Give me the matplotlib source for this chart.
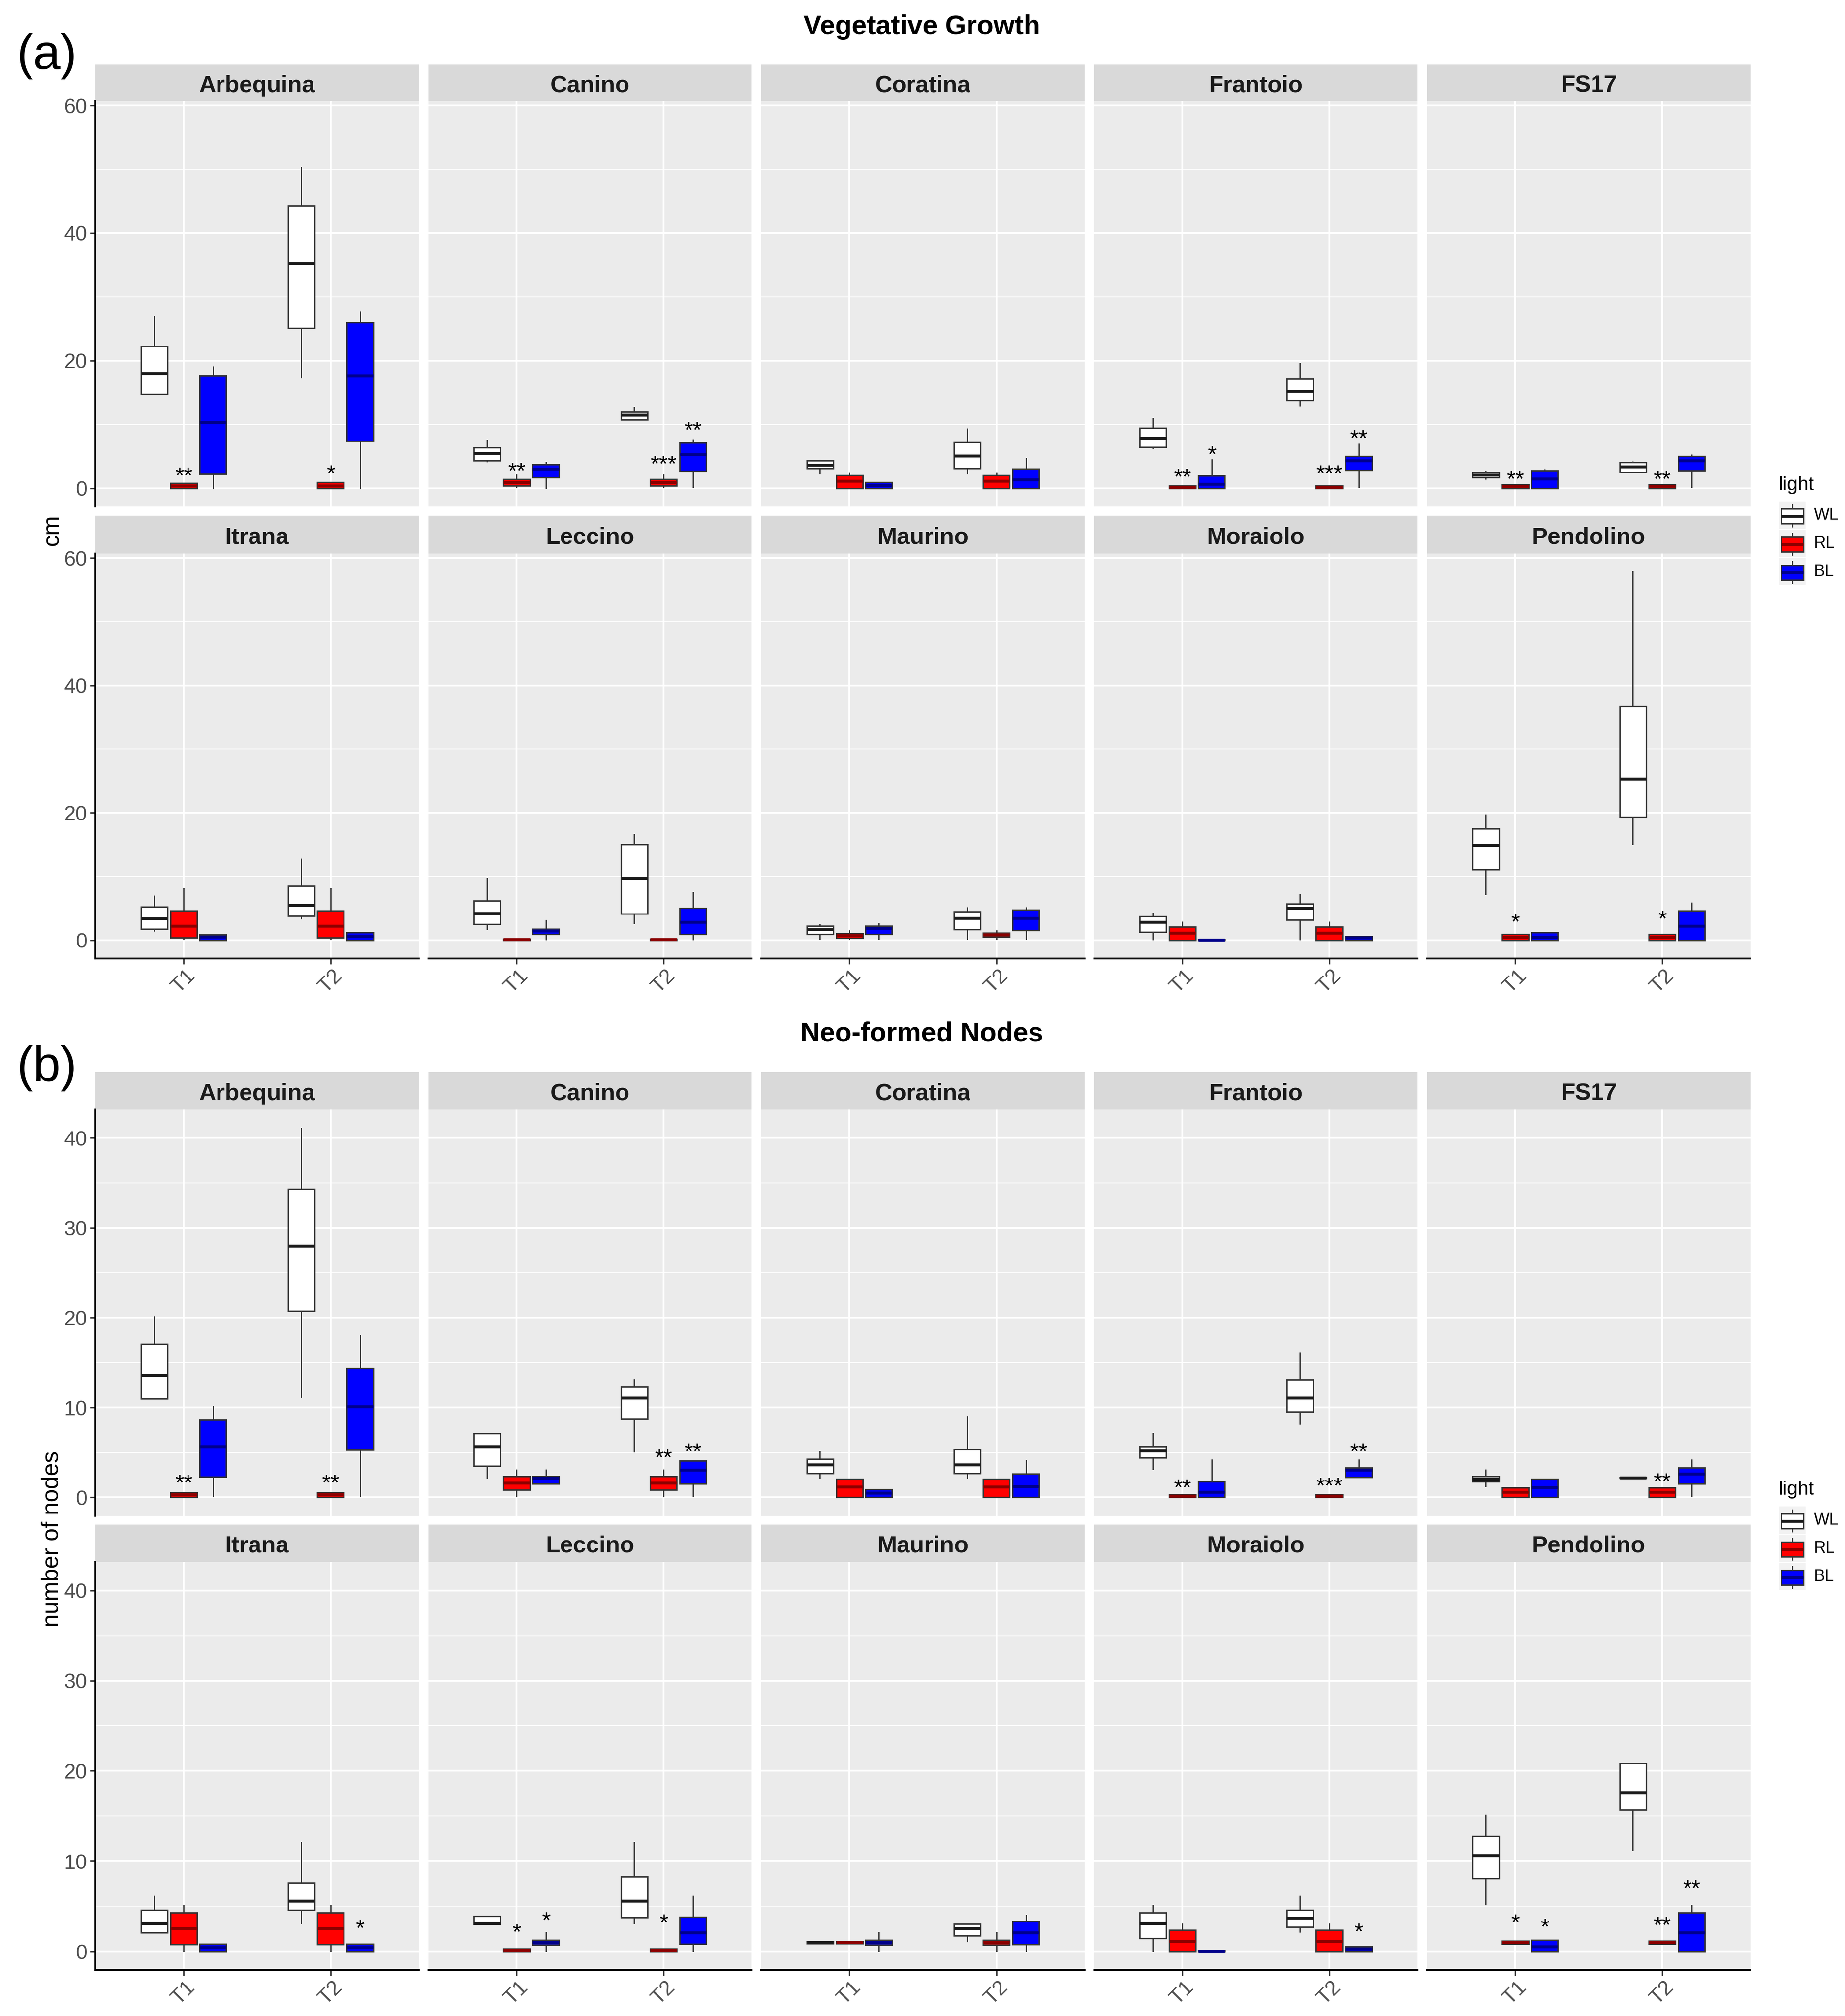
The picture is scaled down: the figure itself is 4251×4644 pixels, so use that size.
import matplotlib
matplotlib.use("Agg")
import matplotlib.pyplot as plt
from matplotlib.patches import Rectangle
from matplotlib.ticker import MultipleLocator

plt.rcParams['font.family'] = ['Liberation Sans', 'DejaVu Sans']

W, H, DPI = 4251, 4644, 300

# ---------------- data ----------------
cultivars = ["Arbequina", "Canino", "Coratina", "Frantoio", "FS17",
             "Itrana", "Leccino", "Maurino", "Moraiolo", "Pendolino"]
times = ["T1", "T2"]
lights = ["WL", "RL", "BL"]
light_colors = ["#FFFFFF", "#FF0000", "#0000FF"]
median_colors = ["#1A1A1A", "#8B0000", "#00008B"]

# box stats per cultivar: [lower whisker, Q1, median, Q3, upper whisker]
# (a) Vegetative Growth (cm)
growth_WL_T1 = [[14.75, 14.75, 18.0, 22.2, 26.9], [4.2, 4.3, 5.45, 6.4, 7.5], [2.25, 3.08, 3.66, 4.31, 4.4],
                [6.3, 6.44, 7.84, 9.45, 10.96], [1.45, 1.7, 2.1, 2.5, 2.6], [1.5, 1.75, 3.4, 5.2, 6.9],
                [1.75, 2.5, 4.2, 6.2, 9.7], [0.18, 0.94, 1.67, 2.2, 2.4], [0.1, 1.25, 2.85, 3.7, 4.2],
                [7.2, 11.1, 14.9, 17.5, 19.7]]
growth_WL_T2 = [[17.3, 25.1, 35.2, 44.3, 50.3], [10.7, 10.7, 11.5, 11.95, 12.7], [2.25, 3.1, 5.1, 7.2, 9.3],
                [13.0, 13.8, 15.2, 17.1, 19.6], [2.5, 2.5, 3.4, 4.05, 4.15], [3.4, 3.8, 5.5, 8.5, 12.7],
                [2.6, 4.1, 9.7, 15.05, 16.6], [0.18, 1.67, 3.45, 4.5, 5.1], [0.1, 3.2, 5.0, 5.7, 7.2],
                [15.1, 19.3, 25.3, 36.7, 57.8]]
growth_RL_T1 = [[0, 0, 0.4, 0.8, 0.8], [0.15, 0.35, 0.9, 1.4, 2.1], [0, 0, 1.1, 2.0, 2.4],
                [0, 0, 0.2, 0.4, 0.4], [0, 0, 0.3, 0.57, 0.57], [0.2, 0.35, 2.25, 4.6, 8.1],
                [0, 0, 0.08, 0.15, 0.15], [0.18, 0.34, 0.7, 1.03, 1.44], [0, 0, 1.1, 2.1, 2.85],
                [0, 0, 0.45, 0.95, 0.95]]
growth_RL_T2 = [[0, 0, 0.4, 0.9, 0.9], [0.15, 0.35, 0.9, 1.4, 2.1], [0, 0, 1.1, 2.0, 2.4],
                [0, 0, 0.2, 0.4, 0.4], [0, 0, 0.3, 0.57, 0.57], [0.2, 0.35, 2.25, 4.6, 8.1],
                [0, 0, 0.08, 0.15, 0.15], [0.18, 0.53, 0.87, 1.14, 1.44], [0, 0, 1.1, 2.1, 2.85],
                [0, 0, 0.45, 0.95, 0.95]]
growth_BL_T1 = [[0, 2.2, 10.3, 17.7, 19.0], [0.05, 1.7, 3.0, 3.7, 4.05], [0, 0, 0.45, 0.94, 0.94],
                [0, 0, 0.68, 1.97, 4.47], [0, 0, 1.45, 2.75, 2.9], [0, 0, 0.5, 0.85, 0.85],
                [0.1, 0.95, 1.45, 1.75, 3.1], [0.18, 0.94, 1.85, 2.2, 2.6], [0, 0, 0.05, 0.1, 0.1],
                [0, 0, 0.45, 1.2, 1.2]]
growth_BL_T2 = [[0, 7.4, 17.7, 26.0, 27.7], [0.15, 2.7, 5.25, 7.1, 7.6], [0, 0, 1.35, 3.0, 4.7],
                [0.15, 2.86, 4.3, 5.04, 6.9], [0.15, 2.75, 4.3, 5.0, 5.2], [0, 0, 0.6, 1.2, 1.2],
                [0.1, 0.95, 2.85, 5.0, 7.5], [0.18, 1.55, 3.45, 4.75, 5.1], [0, 0, 0.35, 0.6, 0.6],
                [0, 0, 2.25, 4.6, 5.8]]

# (b) Neo-formed Nodes (number of nodes)
nodes_WL_T1 = [[11.0, 11.0, 13.6, 17.05, 20.1], [2.15, 3.5, 5.66, 7.1, 7.1], [2.16, 2.68, 3.63, 4.25, 5.08],
               [3.15, 4.44, 5.2, 5.66, 7.14], [1.22, 1.78, 2.07, 2.33, 3.07], [2.08, 2.08, 3.1, 4.56, 6.1],
               [3.0, 3.0, 3.1, 3.9, 3.9], [0.9, 0.9, 1.0, 1.1, 1.1], [0.07, 1.46, 3.1, 4.3, 5.1],
               [5.2, 8.1, 10.65, 12.76, 15.1]]
nodes_WL_T2 = [[11.2, 20.75, 28.0, 34.3, 41.1], [5.1, 8.7, 11.1, 12.3, 13.1], [2.16, 2.68, 3.63, 5.35, 9.0],
               [8.2, 9.55, 11.1, 13.1, 16.1], [2.15, 2.15, 2.2, 2.25, 2.25], [3.1, 4.56, 5.58, 7.6, 12.1],
               [3.1, 3.76, 5.58, 8.3, 12.1], [1.1, 1.75, 2.55, 3.03, 3.03], [2.19, 2.73, 3.72, 4.56, 6.1],
               [11.2, 15.7, 17.6, 20.85, 20.85]]
nodes_RL_T1 = [[0, 0, 0.3, 0.55, 0.55], [0.1, 0.85, 1.6, 2.33, 3.07], [0, 0, 1.2, 2.05, 2.05],
               [0, 0, 0.15, 0.3, 0.3], [0, 0, 0.6, 1.1, 1.1], [0.07, 0.8, 2.55, 4.27, 5.1],
               [0, 0, 0.15, 0.3, 0.3], [0.9, 0.9, 1.0, 1.1, 1.1], [0, 0, 1.1, 2.37, 3.03],
               [0.85, 0.85, 1.0, 1.15, 1.15]]
nodes_RL_T2 = [[0, 0, 0.3, 0.55, 0.55], [0.1, 0.85, 1.6, 2.33, 3.07], [0, 0, 1.2, 2.05, 2.05],
               [0, 0, 0.15, 0.3, 0.3], [0, 0, 0.6, 1.1, 1.1], [0.07, 0.8, 2.55, 4.27, 5.1],
               [0, 0, 0.15, 0.3, 0.3], [0.07, 0.73, 1.0, 1.28, 2.08], [0, 0, 1.1, 2.37, 3.03],
               [0.85, 0.85, 1.0, 1.15, 1.15]]
nodes_BL_T1 = [[0.1, 2.3, 5.66, 8.6, 10.1], [1.5, 1.5, 2.15, 2.33, 3.07], [0, 0, 0.5, 0.87, 0.87],
               [0, 0, 0.6, 1.78, 4.2], [0, 0, 1.15, 2.07, 2.07], [0, 0, 0.44, 0.84, 0.84],
               [0.07, 0.73, 1.0, 1.28, 2.08], [0.07, 0.73, 1.0, 1.28, 2.08], [0, 0, 0.05, 0.1, 0.1],
               [0, 0, 0.55, 1.28, 1.28]]
nodes_BL_T2 = [[0.1, 5.3, 10.1, 14.35, 18.05], [0.1, 1.5, 3.07, 4.1, 4.1], [0, 0, 1.25, 2.64, 4.12],
               [2.26, 2.26, 3.07, 3.33, 4.2], [0.1, 1.5, 2.63, 3.33, 4.2], [0, 0, 0.44, 0.84, 0.84],
               [0.07, 0.84, 2.08, 3.83, 6.1], [0.07, 0.8, 2.08, 3.35, 4.0], [0, 0, 0.3, 0.55, 0.55],
               [0, 0, 2.1, 4.27, 5.1]]

# significance labels: (cultivar, time, light, label, y)
growth_stars = [("Arbequina", "T1", "RL", "**", 2.75), ("Arbequina", "T2", "RL", "*", 3.1),
                ("Canino", "T1", "RL", "**", 3.5), ("Canino", "T2", "RL", "***", 4.6),
                ("Canino", "T2", "BL", "**", 9.9), ("Frantoio", "T1", "RL", "**", 2.5),
                ("Frantoio", "T1", "BL", "*", 6.1), ("Frantoio", "T2", "RL", "***", 3.1),
                ("Frantoio", "T2", "BL", "**", 8.6), ("FS17", "T1", "RL", "**", 2.2),
                ("FS17", "T2", "RL", "**", 2.2), ("Pendolino", "T1", "RL", "*", 3.6),
                ("Pendolino", "T2", "RL", "*", 4.1)]
nodes_stars = [("Arbequina", "T1", "RL", "**", 2.2), ("Arbequina", "T2", "RL", "**", 2.2),
               ("Canino", "T2", "RL", "**", 5.0), ("Canino", "T2", "BL", "**", 5.66),
               ("Frantoio", "T1", "RL", "**", 1.66), ("Frantoio", "T2", "RL", "***", 1.85),
               ("Frantoio", "T2", "BL", "**", 5.66), ("FS17", "T2", "RL", "**", 2.33),
               ("Itrana", "T2", "BL", "*", 3.1), ("Leccino", "T1", "RL", "*", 2.7),
               ("Leccino", "T1", "BL", "*", 4.0), ("Leccino", "T2", "RL", "*", 3.76),
               ("Moraiolo", "T2", "BL", "*", 2.73), ("Pendolino", "T1", "RL", "*", 3.75),
               ("Pendolino", "T1", "BL", "*", 3.28), ("Pendolino", "T2", "RL", "**", 3.46),
               ("Pendolino", "T2", "BL", "**", 7.55)]

growth = {"WL": (growth_WL_T1, growth_WL_T2), "RL": (growth_RL_T1, growth_RL_T2),
          "BL": (growth_BL_T1, growth_BL_T2)}
nodes = {"WL": (nodes_WL_T1, nodes_WL_T2), "RL": (nodes_RL_T1, nodes_RL_T2),
         "BL": (nodes_BL_T1, nodes_BL_T2)}

# ---------------- layout ----------------
fig = plt.figure(figsize=(W / DPI, H / DPI), dpi=DPI)
fig.patch.set_facecolor("white")


def px_axes(x0, y0, x1, y1):
    return fig.add_axes([x0 / W, 1 - y1 / H, (x1 - x0) / W, (y1 - y0) / H])


col_left = [220, 987, 1754, 2521, 3288]
col_w = 745
dodge = [-0.2, 0.0, 0.2]
box_w = 0.18

sections = [
    dict(title="Vegetative Growth", tag="(a)", ylabel="cm", data=growth, stars=growth_stars,
         major=20, minor=10, rows=[(149, 233, 1167), (1188, 1275, 2208)],
         title_y=63, tag_y=130, ylabel_y=1221, legend_y=1117),
    dict(title="Neo-formed Nodes", tag="(b)", ylabel="number of nodes", data=nodes, stars=nodes_stars,
         major=10, minor=5, rows=[(2470, 2556, 3492), (3512, 3598, 4538)],
         title_y=2382, tag_y=2461, ylabel_y=3545, legend_y=3432),
]

for sec in sections:
    data = sec["data"]
    allv = [v for L in lights for tset in data[L] for row in tset for v in row]
    lo, hi = min(allv), max(allv)
    rng = hi - lo
    ylim = (lo - 0.05 * rng, hi + 0.05 * rng)

    for ci, cult in enumerate(cultivars):
        r, c = divmod(ci, 5)
        s_top, p_top, p_bot = sec["rows"][r]
        x0 = col_left[c]
        x1 = x0 + col_w
        # strip
        sax = px_axes(x0, s_top, x1, p_top)
        sax.set_facecolor("#D9D9D9")
        sax.set_xticks([]); sax.set_yticks([])
        for sp in sax.spines.values():
            sp.set_visible(False)
        sax.text(0.5, 0.42, cult, ha="center", va="center", fontsize=13, fontweight="bold",
                 color="#1A1A1A", transform=sax.transAxes)
        # panel
        ax = px_axes(x0, p_top, x1, p_bot)
        ax.set_facecolor("#EBEBEB")
        ax.set_axisbelow(True)
        ax.set_xlim(0.4, 2.6)
        ax.set_ylim(*ylim)
        ax.yaxis.set_major_locator(MultipleLocator(sec["major"]))
        ax.yaxis.set_minor_locator(MultipleLocator(sec["minor"]))
        ax.set_xticks([1, 2])
        ax.grid(which="major", color="white", linewidth=1.0)
        ax.grid(which="minor", axis="y", color="white", linewidth=0.5)
        ax.tick_params(which="minor", length=0)
        for sp in ax.spines.values():
            sp.set_visible(False)

        for li, L in enumerate(lights):
            stats, pos = [], []
            for ti in range(2):
                wl, q1, med, q3, wh = data[L][ti][ci]
                stats.append(dict(whislo=wl, q1=q1, med=med, q3=q3, whishi=wh, fliers=[]))
                pos.append(ti + 1 + dodge[li])
            ax.bxp(stats, positions=pos, widths=box_w, patch_artist=True, showcaps=False,
                   showfliers=False, manage_ticks=False,
                   boxprops=dict(facecolor=light_colors[li], edgecolor="#333333", linewidth=0.8),
                   medianprops=dict(color=median_colors[li], linewidth=1.6, solid_capstyle="butt"),
                   whiskerprops=dict(color="#333333", linewidth=0.7))

        for (cn, t, L, lab, yv) in sec["stars"]:
            if cn != cult:
                continue
            xv = times.index(t) + 1 + dodge[lights.index(L)]
            ax.annotate(lab, xy=(xv, yv), xytext=(0, -6.8), textcoords="offset points",
                        ha="center", va="baseline", fontsize=12.5, color="black")

        # axes
        if c == 0:
            ax.spines["left"].set_visible(True)
            ax.spines["left"].set_color("black")
            ax.spines["left"].set_linewidth(1.0)
            ax.tick_params(axis="y", which="major", labelsize=11.5, labelcolor="#4D4D4D",
                           color="#333333", length=3.1, width=0.8, pad=1.5)
        else:
            ax.tick_params(axis="y", which="major", left=False, labelleft=False)
        if r == 1:
            ax.spines["bottom"].set_visible(True)
            ax.spines["bottom"].set_color("black")
            ax.spines["bottom"].set_linewidth(1.0)
            ax.set_xticklabels(times, rotation=45, ha="center", fontsize=11.5, color="#4D4D4D")
            ax.tick_params(axis="x", which="major", color="#333333", length=3.1, width=0.8, pad=1)
        else:
            ax.tick_params(axis="x", which="major", bottom=False, labelbottom=False)

# ---------------- overlay: titles, labels, legends ----------------
ov = fig.add_axes([0, 0, 1, 1])
ov.set_xlim(0, W)
ov.set_ylim(H, 0)
ov.axis("off")
ov.set_zorder(10)

for sec in sections:
    ov.text(2124, sec["title_y"], sec["title"], ha="center", va="center", fontsize=15,
            fontweight="bold", color="black")
    ov.text(108, sec["tag_y"], sec["tag"], ha="center", va="center", fontsize=27, color="black")
    ov.text(120, sec["ylabel_y"], sec["ylabel"], ha="center", va="center", rotation=90,
            fontsize=13, color="black")
    ly = sec["legend_y"]
    ov.text(4098, ly, "light", ha="left", va="center", fontsize=10.5, color="black")
    for k, L in enumerate(lights):
        ktop = ly + 37 + 65 * k
        ov.add_patch(Rectangle((4098, ktop), 63, 65, facecolor="#F2F2F2", edgecolor="white",
                               linewidth=0.5))
        cx = 4129.5
        ov.plot([cx, cx], [ktop + 9, ktop + 18], color="#333333", linewidth=0.7)
        ov.plot([cx, cx], [ktop + 52, ktop + 59], color="#333333", linewidth=0.7)
        ov.add_patch(Rectangle((4104, ktop + 18), 51, 34, facecolor=light_colors[k],
                               edgecolor="#333333", linewidth=0.8))
        ov.plot([4104, 4155], [ktop + 35, ktop + 35], color=median_colors[k], linewidth=1.6,
                solid_capstyle="butt")
        ov.text(4180, ktop + 33, L, ha="left", va="center", fontsize=9, color="black")

fig.savefig("out.png", dpi=DPI)
